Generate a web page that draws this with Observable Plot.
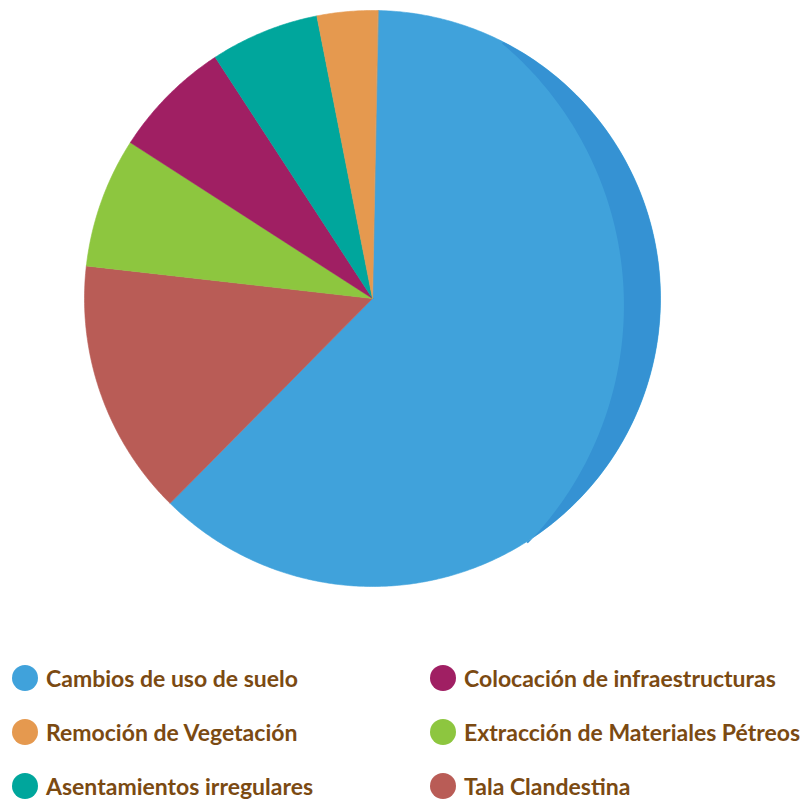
<!DOCTYPE html>
<html>
<head>
<meta charset="utf-8">
<script src="https://cdn.jsdelivr.net/npm/d3@7"></script>
<script src="https://cdn.jsdelivr.net/npm/@observablehq/plot@0.6"></script>
<style>
  html, body { margin: 0; padding: 0; background: #fff; }
  #chart svg { display: block; }
  .legend {
    display: grid;
    grid-template-columns: 418px 376px;
    grid-auto-rows: 54px;
    padding: 51px 0 0 12px;
    font-family: Lato, "Open Sans", sans-serif;
    font-weight: 700;
    font-size: 23px;
    color: #7b4a12;
  }
  .legend .item { display: flex; align-items: center; white-space: nowrap; }
  .legend .sw { width: 26px; height: 26px; border-radius: 50%; margin-right: 8px; flex: none; }
</style>
</head>
<body>
<div id="chart"></div>
<div id="legend" class="legend"></div>
<script>
// Slices, clockwise from the top
const categories = [
  "Cambios de uso de suelo",
  "Tala Clandestina",
  "Extracción de Materiales Pétreos",
  "Colocación de infraestructuras",
  "Asentamientos irregulares",
  "Remoción de Vegetación"
];
const values = [62.1, 14.4, 7.3, 6.7, 6.1, 3.4];
const colors = ["#40a2db", "#b95c56", "#8dc63f", "#a01f63", "#00a69c", "#e5994f"];
// Legend order (row by row, two columns)
const legendOrder = [
  "Cambios de uso de suelo",
  "Colocación de infraestructuras",
  "Remoción de Vegetación",
  "Extracción de Materiales Pétreos",
  "Asentamientos irregulares",
  "Tala Clandestina"
];

const deg = Math.PI / 180;
const startOffset = 1.1 * deg;
const arcs = d3.pie().sort(null).startAngle(startOffset).endAngle(startOffset + 2 * Math.PI)(values);

// polygon points in unit coordinates (y up), angle clockwise from top
const points = [];
arcs.forEach((a, i) => {
  const key = categories[i];
  points.push({key, x: 0, y: 0});
  const n = Math.max(2, Math.ceil((a.endAngle - a.startAngle) / (0.5 * deg)));
  for (let k = 0; k <= n; k++) {
    const t = a.startAngle + (a.endAngle - a.startAngle) * k / n;
    points.push({key, x: Math.sin(t), y: Math.cos(t)});
  }
});

// darker crescent shading on the right side of the large slice
const shadeFrom = 27 * deg, shadeTo = 147.7 * deg;
const ic = {x: -0.316, y: -0.024}, ir = 1.189;
const shade = [];
for (let k = 0; k <= 120; k++) {
  const t = shadeFrom + (shadeTo - shadeFrom) * k / 120;
  shade.push({x: Math.sin(t), y: Math.cos(t)});
}
const pb = shade[shade.length - 1], pt = shade[0];
const phB = Math.atan2(pb.y - ic.y, pb.x - ic.x);
const phT = Math.atan2(pt.y - ic.y, pt.x - ic.x);
for (let k = 0; k <= 120; k++) {
  const p = phB + (phT - phB) * k / 120;
  shade.push({x: ic.x + ir * Math.cos(p), y: ic.y + ir * Math.sin(p)});
}

const chart = Plot.plot({
  width: 806,
  height: 600,
  margin: 0,
  x: {domain: [-1, 1], range: [84, 660], axis: null},
  y: {domain: [-1, 1], range: [586, 10], axis: null},
  color: {domain: categories, range: colors},
  marks: [
    Plot.line(points, {x: "x", y: "y", z: "key", fill: "key", stroke: "key", strokeWidth: 0.6, curve: "linear-closed"}),
    Plot.line(shade, {x: "x", y: "y", fill: "#3592d3", stroke: "none", curve: "linear-closed"})
  ]
});
document.getElementById("chart").appendChild(chart);

const colorOf = new Map(categories.map((c, i) => [c, colors[i]]));
const legend = d3.select("#legend");
legendOrder.forEach(c => {
  const item = legend.append("div").attr("class", "item");
  item.append("span").attr("class", "sw").style("background", colorOf.get(c));
  item.append("span").text(c);
});
</script>
</body>
</html>
